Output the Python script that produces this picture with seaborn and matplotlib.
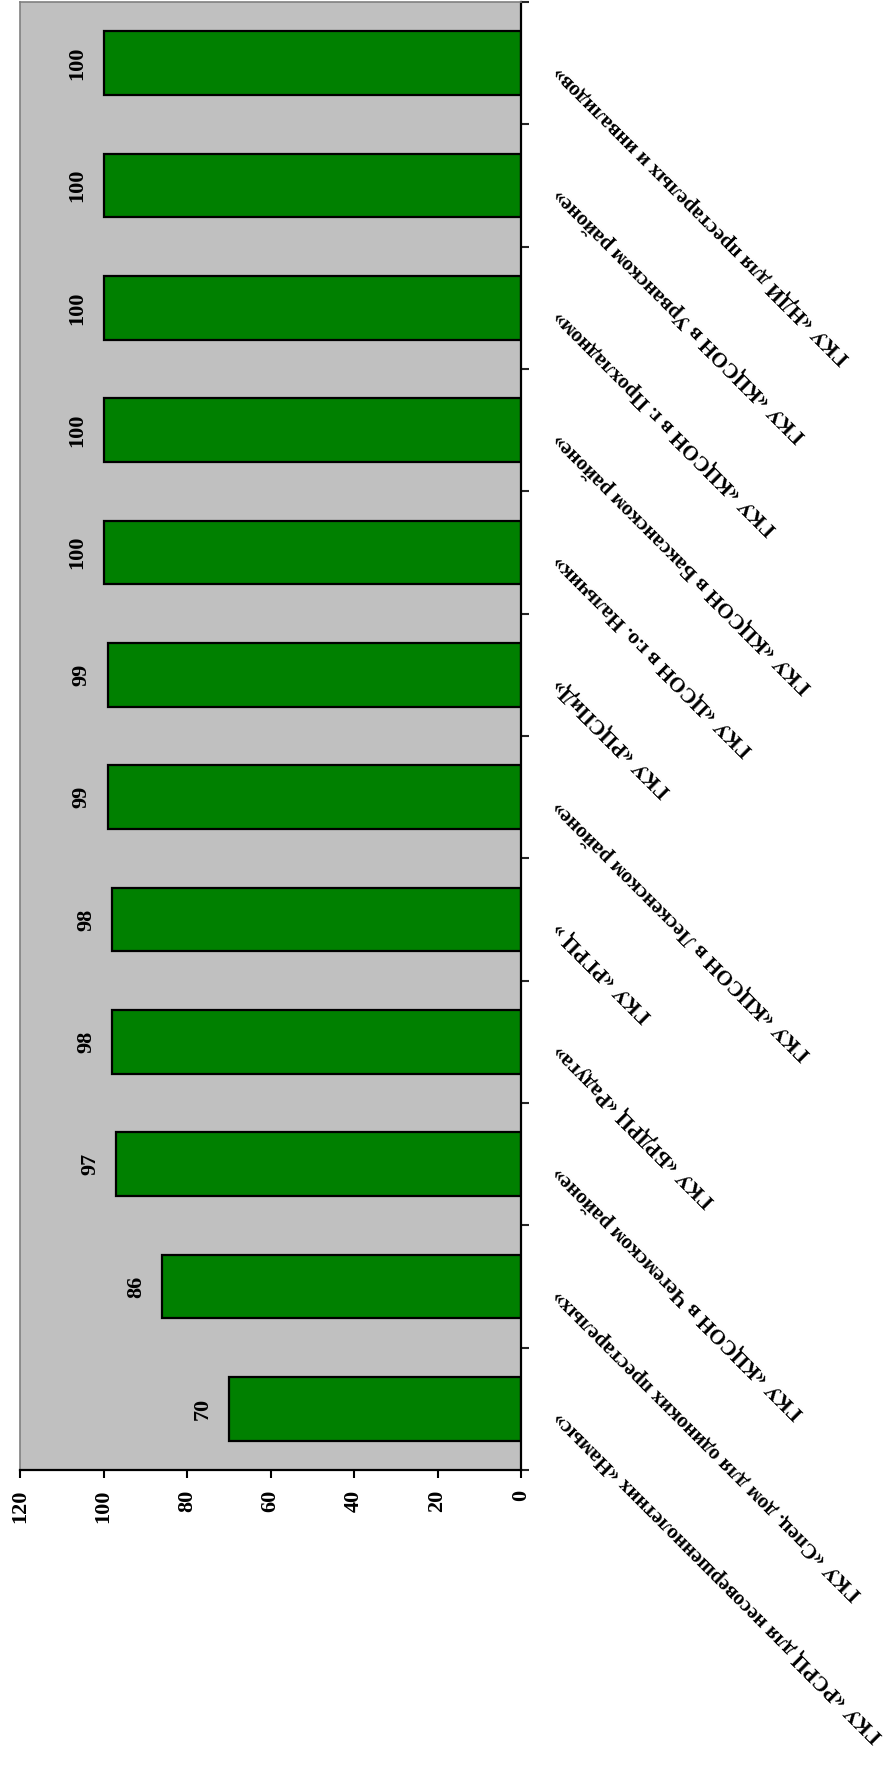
import matplotlib
matplotlib.use("Agg")
import matplotlib.pyplot as plt
import matplotlib.transforms as mtransforms
import seaborn as sns
import numpy as np
import pandas as pd

categories = [
    "ГКУ «РСРЦ для несовершеннолетних «Намыс»",
    "ГКУ «Спец. дом для одиноких престарелых»",
    "ГКУ «КЦСОН в Чегемском районе»",
    "ГКУ «БРДРЦ «Радуга»",
    "ГКУ «РГРЦ »",
    "ГКУ «КЦСОН в Лескенском районе»",
    "ГКУ «РЦСПиД»",
    "ГКУ «ЦСОН в г.о. Нальчик»",
    "ГКУ «КЦСОН в Баксанском районе»",
    "ГКУ «КЦСОН в г. Прохладном»",
    "ГКУ «КЦСОН в Урванском районе»",
    "ГКУ «НДИ для престарелых и инвалидов»",
]
values = [70, 86, 97, 98, 98, 99, 99, 100, 100, 100, 100, 100]
value_ticks = [0, 20, 40, 60, 80, 100, 120]

sns.set_theme(style="white")
plt.rcParams["font.family"] = ["Liberation Serif", "DejaVu Serif"]
plt.rcParams["font.weight"] = "bold"

df = pd.DataFrame({"cat": categories, "val": values})
order = categories[::-1]

fig = plt.figure(figsize=(8.9, 17.76), dpi=100)
W, H = 890, 1776
left, right, top, bottom = 20, 521, 2, 1470
ax = fig.add_axes([left / W, (H - bottom) / H, (right - left) / W, (bottom - top) / H])
ax.set_facecolor("#C0C0C0")

sns.barplot(data=df, x="val", y="cat", order=order, orient="h", color="#008000",
            saturation=1, edgecolor="black", linewidth=1.6, width=0.52, ax=ax)

ax.set_xlim(120, 0)
ax.set_ylim(11.5, -0.5)
ax.set_xlabel("")
ax.set_ylabel("")

# value axis (bottom)
ax.set_xticks(value_ticks)
ax.set_xticklabels([str(t) for t in value_ticks], rotation=90, fontsize=16,
                   fontweight="bold", va="top", ha="center")
ax.tick_params(axis="x", direction="out", length=6, width=1.5, pad=8, colors="black",
               bottom=True)

# category axis (right)
ax.yaxis.tick_right()
ax.set_yticks(np.arange(-0.5, len(categories), 1))
ax.set_yticklabels([])
ax.tick_params(axis="y", direction="out", length=6, width=1.5, right=True, left=False)

for s in ["top", "left"]:
    ax.spines[s].set_color("#808080")
    ax.spines[s].set_linewidth(1.2)
for s in ["right", "bottom"]:
    ax.spines[s].set_color("black")
    ax.spines[s].set_linewidth(1.6)
    ax.spines[s].set_visible(True)

# value labels
for i, cat in enumerate(order):
    v = values[categories.index(cat)]
    ax.text(v + 6.2, i, str(v), rotation=90, ha="center", va="center",
            fontsize=16, fontweight="bold", color="black")

# category labels
trans = mtransforms.blended_transform_factory(ax.transAxes, ax.transData)
for i, cat in enumerate(order):
    ax.text(1.07, i + 0.05, cat, transform=trans, rotation=135, rotation_mode="anchor",
            ha="right", va="center", fontsize=15.2, fontweight="bold", color="black",
            clip_on=False)

fig.savefig("out.png", dpi=100, facecolor="white")
